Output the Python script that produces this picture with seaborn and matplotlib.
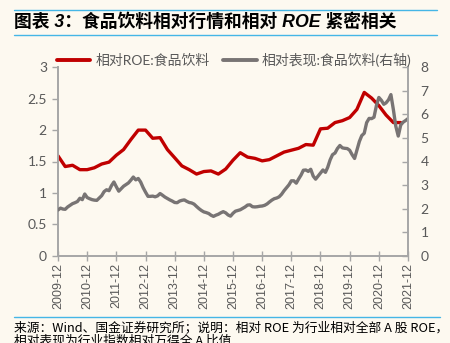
import numpy as np
import pandas as pd
import matplotlib
matplotlib.use('Agg')
import matplotlib.pyplot as plt
import matplotlib.dates as mdates
from matplotlib.lines import Line2D
import seaborn as sns

# ---------------- data ----------------
title = "图表 3：食品饮料相对行情和相对 ROE 紧密相关"
roe_label = "相对ROE:食品饮料"
rel_label = "相对表现:食品饮料(右轴)"
source_line1 = "来源：Wind、国金证券研究所；说明：相对 ROE 为行业相对全部 A 股 ROE，"
source_line2 = "相对表现为行业指数相对万得全 A 比值"

tick_years = [2009, 2010, 2011, 2012, 2013, 2014, 2015, 2016, 2017, 2018, 2019, 2020, 2021]
left_ticks = [0, 0.5, 1, 1.5, 2, 2.5, 3]
left_tick_labels = ["0", "0.5", "1", "1.5", "2", "2.5", "3"]
right_ticks = [0, 1, 2, 3, 4, 5, 6, 7, 8]

# quarterly relative ROE, from 2009-12
roe_values = [1.59, 1.42, 1.44, 1.37, 1.37, 1.40, 1.46, 1.49, 1.60, 1.69,
              1.85, 2.00, 2.00, 1.87, 1.88, 1.69, 1.56, 1.43, 1.37, 1.30,
              1.34, 1.35, 1.30, 1.38, 1.52, 1.64, 1.57, 1.55, 1.51, 1.53,
              1.59, 1.65, 1.68, 1.71, 1.77, 1.76, 2.02, 2.03, 2.12, 2.15,
              2.20, 2.33, 2.60, 2.51, 2.39, 2.24, 2.12, 2.12]

# monthly relative performance, from 2009-12 (right axis)
rel_values = [1.94, 2.02, 1.98, 1.97, 2.07, 2.14, 2.21, 2.25, 2.30, 2.44,
              2.38, 2.62, 2.47, 2.42, 2.38, 2.36, 2.35, 2.45, 2.55, 2.72,
              2.80, 2.76, 2.97, 3.13, 2.93, 2.74, 2.85, 2.95, 3.02, 3.09,
              3.21, 3.34, 3.22, 3.28, 3.13, 2.89, 2.70, 2.52, 2.52, 2.53,
              2.50, 2.54, 2.64, 2.57, 2.49, 2.43, 2.37, 2.32, 2.26, 2.25,
              2.32, 2.35, 2.37, 2.31, 2.26, 2.24, 2.19, 2.09, 2.00, 1.92,
              1.86, 1.83, 1.79, 1.72, 1.67, 1.72, 1.76, 1.82, 1.87, 1.82,
              1.73, 1.68, 1.80, 1.89, 1.92, 1.95, 2.01, 2.07, 2.15, 2.16,
              2.08, 2.07, 2.08, 2.10, 2.11, 2.14, 2.20, 2.28, 2.36, 2.42,
              2.45, 2.50, 2.61, 2.76, 2.88, 3.01, 3.18, 3.18, 3.08, 3.25,
              3.42, 3.63, 3.64, 3.58, 3.67, 3.38, 3.25, 3.38, 3.50, 3.64,
              3.54, 3.75, 4.07, 4.29, 4.36, 4.55, 4.68, 4.58, 4.56, 4.55,
              4.48, 4.29, 4.13, 4.47, 4.85, 5.10, 5.20, 5.65, 5.83, 5.82,
              5.88, 6.38, 6.72, 6.60, 6.43, 6.49, 6.62, 6.84, 6.20, 5.50,
              5.08, 5.55, 5.67, 5.74, 5.82]

roe_df = pd.DataFrame({"date": pd.date_range("2009-12-01", periods=len(roe_values), freq="3MS"),
                       "roe": roe_values})
rel_df = pd.DataFrame({"date": pd.date_range("2009-12-01", periods=len(rel_values), freq="MS"),
                       "rel": rel_values})

# ---------------- style ----------------
sns.set_theme(style="white")
plt.rcParams['font.family'] = ['Lato', 'Noto Sans CJK SC', 'DejaVu Sans']

BG = "#FDF9F0"
RED = "#C00000"
GREY = "#787474"
AXIS = "#A6A6A6"
TXT = "#595959"
BLUE = "#45B6E6"

W, H = 450, 343
fig = plt.figure(figsize=(W / 100, H / 100), dpi=100, facecolor=BG)
ax = fig.add_axes([58 / W, 1 - 255.7 / H, 350 / W, (255.7 - 67.3) / H])
ax.set_facecolor(BG)
ax2 = ax.twinx()

sns.lineplot(data=roe_df, x="date", y="roe", ax=ax, color=RED, linewidth=2.4)
sns.lineplot(data=rel_df, x="date", y="rel", ax=ax2, color=GREY, linewidth=2.4)

for a in (ax, ax2):
    a.set_xlabel("")
    a.set_ylabel("")

ax.set_ylim(0, 3)
ax2.set_ylim(0, 8)
ax.set_xlim(pd.Timestamp("2009-12-01"), pd.Timestamp("2021-12-01"))

ax.set_yticks(left_ticks)
ax.set_yticklabels(left_tick_labels)
ax2.set_yticks(right_ticks)
ax2.set_yticklabels([str(t) for t in right_ticks])

xt = [pd.Timestamp(f"{y}-12-01") for y in tick_years]
ax.set_xticks(xt)
ax.set_xticklabels([f"{y}-12" for y in tick_years], rotation=90,
                   family=['Liberation Sans', 'Noto Sans CJK SC'], fontsize=9, color=TXT)

for sp in ("top",):
    ax.spines[sp].set_visible(False)
    ax2.spines[sp].set_visible(False)
ax.spines["right"].set_visible(False)
ax2.spines["left"].set_visible(False)
ax2.spines["bottom"].set_visible(False)
for s in (ax.spines["left"], ax.spines["bottom"], ax2.spines["right"]):
    s.set_color(AXIS)
    s.set_linewidth(1.4)

ax.tick_params(axis="y", direction="out", length=4, width=1, color=AXIS,
               labelcolor=TXT, labelsize=10, pad=4, left=True)
ax2.tick_params(axis="y", direction="in", length=4, width=1, color=AXIS,
                labelcolor=TXT, labelsize=10, pad=9, right=True)
ax.tick_params(axis="x", direction="inout", length=7, width=1, color=AXIS,
               labelcolor=TXT, pad=2, bottom=True)
ax.grid(False)
ax2.grid(False)

# legend
handles = [Line2D([], [], color=RED, lw=2.8), Line2D([], [], color=GREY, lw=2.8)]
fig.legend(handles, [roe_label, rel_label], loc="center left",
           bbox_to_anchor=(57 / W, 1 - 60 / H), ncol=2, frameon=False,
           fontsize=10, labelcolor=TXT, handlelength=2.4, handletextpad=0.35,
           columnspacing=1.0, borderpad=0, borderaxespad=0)

# title and decoration lines
fig.text(14 / W, 1 - 22 / H, title, fontsize=12.8, fontweight="bold", style="italic",
         family=['Liberation Sans', 'Noto Sans CJK SC'], va="center", ha="left", color="black")
for yy in (10, 35):
    fig.add_artist(Line2D([14 / W, 437 / W], [1 - yy / H, 1 - yy / H], color=BLUE, lw=1.0))
fig.add_artist(Line2D([14 / W, 440 / W], [1 - 316.5 / H, 1 - 316.5 / H], color=BLUE, lw=1.0))

fig.text(14 / W, 1 - 328 / H, source_line1, fontsize=9.2, va="center", ha="left", color="black",
         family=['Noto Sans CJK SC', 'DejaVu Sans'])
fig.text(14 / W, 1 - 341 / H, source_line2, fontsize=9.2, va="center", ha="left", color="black",
         family=['Noto Sans CJK SC', 'DejaVu Sans'])

fig.savefig("out.png", dpi=100, facecolor=BG)
